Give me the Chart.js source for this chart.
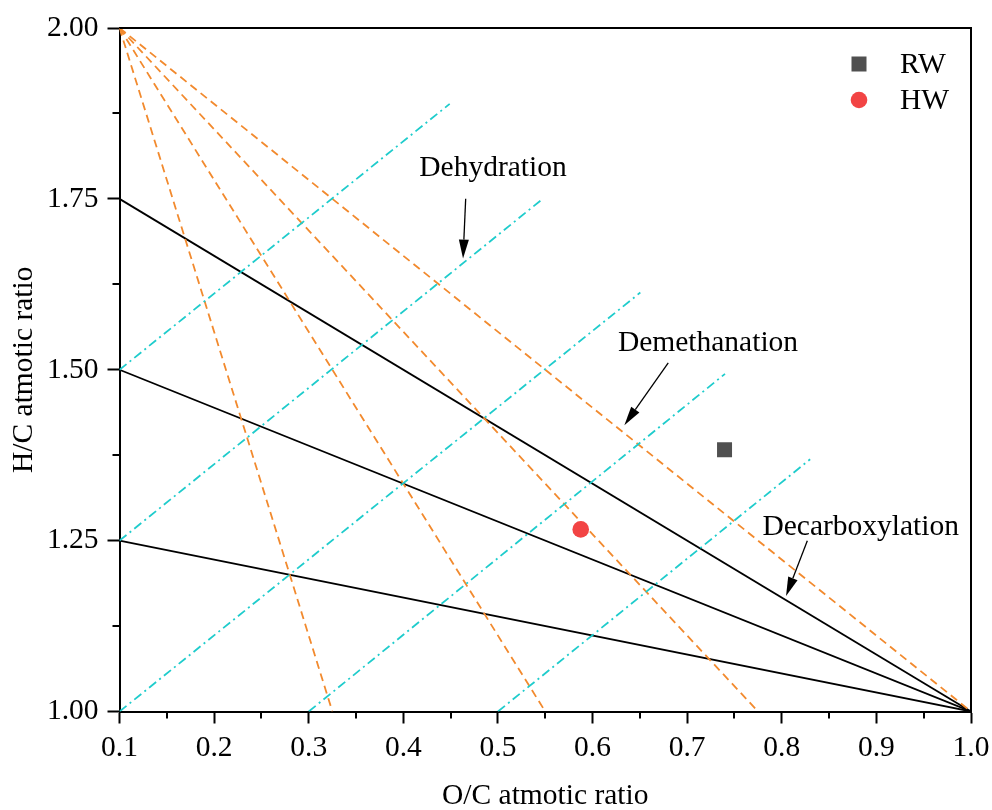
<!DOCTYPE html>
<html>
<head>
<meta charset="utf-8">
<title>H/C vs O/C</title>
<script src="https://cdn.jsdelivr.net/npm/chart.js@4.4.0/dist/chart.umd.min.js"></script>
<style>
  html, body { margin: 0; padding: 0; background: #fff; }
  #vkChart { display: block; }
</style>
</head>
<body>
<canvas id="vkChart" width="992" height="810"></canvas>
<script>
const serif = "'Liberation Serif', 'Times New Roman', serif";
const fontSize = 29.5;

// axis ticks
const xTicks = [0.1, 0.2, 0.3, 0.4, 0.5, 0.6, 0.7, 0.8, 0.9, 1.0];
const xMinorTicks = [0.15, 0.25, 0.35, 0.45, 0.55, 0.65, 0.75, 0.85, 0.95];
const yTicks = [1.0, 1.25, 1.5, 1.75, 2.0];
const yMinorTicks = [1.125, 1.375, 1.625, 1.875];

// samples
const sampleNames = ['RW', 'HW'];
const sampleOC = [0.7395, 0.5875];
const sampleHC = [1.383, 1.2664];

// decarboxylation lines (black), all ending at (1.0, 1.0)
const decarbStart = [[0.1, 1.75], [0.1, 1.5], [0.1, 1.25]];
const decarbEnd = [[1.0, 1.0], [1.0, 1.0], [1.0, 1.0]];

// demethanation lines (orange dashed), all starting at (0.1, 2.0)
const demethStart = [[0.1, 2.0], [0.1, 2.0], [0.1, 2.0], [0.1, 2.0]];
const demethEnd = [[0.325, 1.0], [0.55, 1.0], [0.775, 1.0], [1.0, 1.0]];

// dehydration lines (cyan dash-dot)
const dehydStart = [[0.1, 1.5], [0.1, 1.25], [0.1, 1.0], [0.3, 1.0], [0.5, 1.0]];
const dehydEnd = [[0.449, 1.889], [0.5455, 1.748], [0.6505, 1.613], [0.74, 1.494], [0.83, 1.369]];

// labels with arrows, placed in data units
const notes = [
    { text: 'Dehydration', at: [0.4948, 1.7946], from: [0.4659, 1.7503], to: [0.4631, 1.6626] },
    { text: 'Demethanation', at: [0.722, 1.5383], from: [0.680, 1.510], to: [0.6336, 1.4189] },
    { text: 'Decarboxylation', at: [0.8834, 1.2702], from: [0.827, 1.2497], to: [0.8045, 1.1689] },
];

function lineSet(starts, ends, style) {
    return starts.map((s, i) => Object.assign({
        type: 'line',
        data: [{ x: s[0], y: s[1] }, { x: ends[i][0], y: ends[i][1] }],
        showLine: true,
        fill: false,
        pointRadius: 0,
        order: 2,
    }, style));
}

const lineDatasets = [
    ...lineSet(dehydStart, dehydEnd, { borderColor: '#1fcccc', borderWidth: 1.8, borderDash: [9, 4, 2, 4] }),
    ...lineSet(demethStart, demethEnd, { borderColor: '#f28a2e', borderWidth: 1.8, borderDash: [8, 5] }),
    ...lineSet(decarbStart, decarbEnd, { borderColor: '#000000', borderWidth: 1.8 }),
];

const sampleDatasets = [
    {
        label: sampleNames[0],
        data: [{ x: sampleOC[0], y: sampleHC[0] }],
        pointStyle: 'rect',
        pointRadius: 10.6,
        backgroundColor: '#505050',
        borderColor: '#505050',
        borderWidth: 0,
        order: 0,
    },
    {
        label: sampleNames[1],
        data: [{ x: sampleOC[1], y: sampleHC[1] }],
        pointStyle: 'circle',
        pointRadius: 8.3,
        backgroundColor: '#f24444',
        borderColor: '#f24444',
        borderWidth: 0,
        order: 0,
    },
];

function drawArrow(ctx, x1, y1, x2, y2) {
    const ang = Math.atan2(y2 - y1, x2 - x1);
    const headLen = 19;
    const headHalf = 5;
    const bx = x2 - headLen * Math.cos(ang);
    const by = y2 - headLen * Math.sin(ang);
    ctx.beginPath();
    ctx.moveTo(x1, y1);
    ctx.lineTo(bx, by);
    ctx.stroke();
    ctx.beginPath();
    ctx.moveTo(x2, y2);
    ctx.lineTo(bx + headHalf * Math.sin(ang), by - headHalf * Math.cos(ang));
    ctx.lineTo(bx - headHalf * Math.sin(ang), by + headHalf * Math.cos(ang));
    ctx.closePath();
    ctx.fill();
}

const decorPlugin = {
    id: 'decor',
    afterDraw(chart) {
        const { ctx, chartArea: a, scales: { x, y } } = chart;
        ctx.save();

        // frame on top and right
        ctx.strokeStyle = '#000';
        ctx.lineWidth = 2;
        ctx.beginPath();
        ctx.moveTo(a.left, a.top);
        ctx.lineTo(a.right, a.top);
        ctx.lineTo(a.right, a.bottom);
        ctx.stroke();

        // minor ticks
        ctx.beginPath();
        xMinorTicks.forEach(v => {
            const px = Math.round(x.getPixelForValue(v));
            ctx.moveTo(px, a.bottom);
            ctx.lineTo(px, a.bottom + 7);
        });
        yMinorTicks.forEach(v => {
            const py = Math.round(y.getPixelForValue(v));
            ctx.moveTo(a.left, py);
            ctx.lineTo(a.left - 7, py);
        });
        ctx.stroke();

        // reaction labels and arrows
        ctx.fillStyle = '#000';
        ctx.strokeStyle = '#000';
        ctx.lineWidth = 1.3;
        ctx.font = fontSize + 'px ' + serif;
        ctx.textAlign = 'center';
        ctx.textBaseline = 'middle';
        notes.forEach(n => {
            ctx.fillText(n.text, x.getPixelForValue(n.at[0]), y.getPixelForValue(n.at[1]));
            drawArrow(ctx,
                x.getPixelForValue(n.from[0]), y.getPixelForValue(n.from[1]),
                x.getPixelForValue(n.to[0]), y.getPixelForValue(n.to[1]));
        });

        // legend
        const lx = a.right - 112;
        const ly = a.top + 36;
        ctx.textAlign = 'left';
        sampleDatasets.forEach((ds, i) => {
            const cy = ly + i * 36;
            ctx.fillStyle = ds.backgroundColor;
            if (ds.pointStyle === 'rect') {
                ctx.fillRect(lx - 7.5, cy - 7.5, 15, 15);
            } else {
                ctx.beginPath();
                ctx.arc(lx, cy, 8.3, 0, Math.PI * 2);
                ctx.fill();
            }
            ctx.fillStyle = '#000';
            ctx.fillText(ds.label, lx + 41, cy + 1);
        });

        ctx.restore();
    },
};

const axisGrid = {
    drawOnChartArea: false,
    drawTicks: true,
    tickLength: 12,
    tickWidth: 2,
    tickColor: '#000',
};

new Chart(document.getElementById('vkChart').getContext('2d'), {
    type: 'scatter',
    data: { datasets: [...sampleDatasets, ...lineDatasets] },
    options: {
        responsive: false,
        animation: false,
        devicePixelRatio: 1,
        layout: { padding: { left: 0, top: 28, right: 21, bottom: 0 } },
        plugins: { legend: { display: false }, tooltip: { enabled: false } },
        scales: {
            x: {
                type: 'linear',
                min: 0.1,
                max: 1.0,
                afterBuildTicks: scale => { scale.ticks = xTicks.map(v => ({ value: v })); },
                afterFit: scale => {
                    scale.height = 98.5;
                    scale.paddingLeft = 0;
                    scale.paddingRight = 0;
                },
                ticks: {
                    color: '#000',
                    font: { family: serif, size: fontSize },
                    padding: 7,
                    maxRotation: 0,
                    callback: v => Number(v).toFixed(1),
                },
                grid: axisGrid,
                border: { display: true, color: '#000', width: 2 },
                title: {
                    display: true,
                    text: 'O/C atmotic ratio',
                    color: '#000',
                    font: { family: serif, size: fontSize, lineHeight: 0.9 },
                    padding: { top: 0, bottom: 0 },
                },
            },
            y: {
                type: 'linear',
                min: 1.0,
                max: 2.0,
                afterBuildTicks: scale => { scale.ticks = yTicks.map(v => ({ value: v })); },
                afterFit: scale => {
                    scale.width = 119.5;
                    scale.paddingTop = 0;
                    scale.paddingBottom = 0;
                },
                ticks: {
                    color: '#000',
                    font: { family: serif, size: fontSize },
                    padding: 9,
                    callback: v => Number(v).toFixed(2),
                },
                grid: axisGrid,
                border: { display: true, color: '#000', width: 2 },
                title: {
                    display: true,
                    text: 'H/C atmotic ratio',
                    color: '#000',
                    font: { family: serif, size: fontSize, lineHeight: 1 },
                    padding: { top: 9, bottom: 0 },
                },
            },
        },
    },
    plugins: [decorPlugin],
});
</script>
</body>
</html>
